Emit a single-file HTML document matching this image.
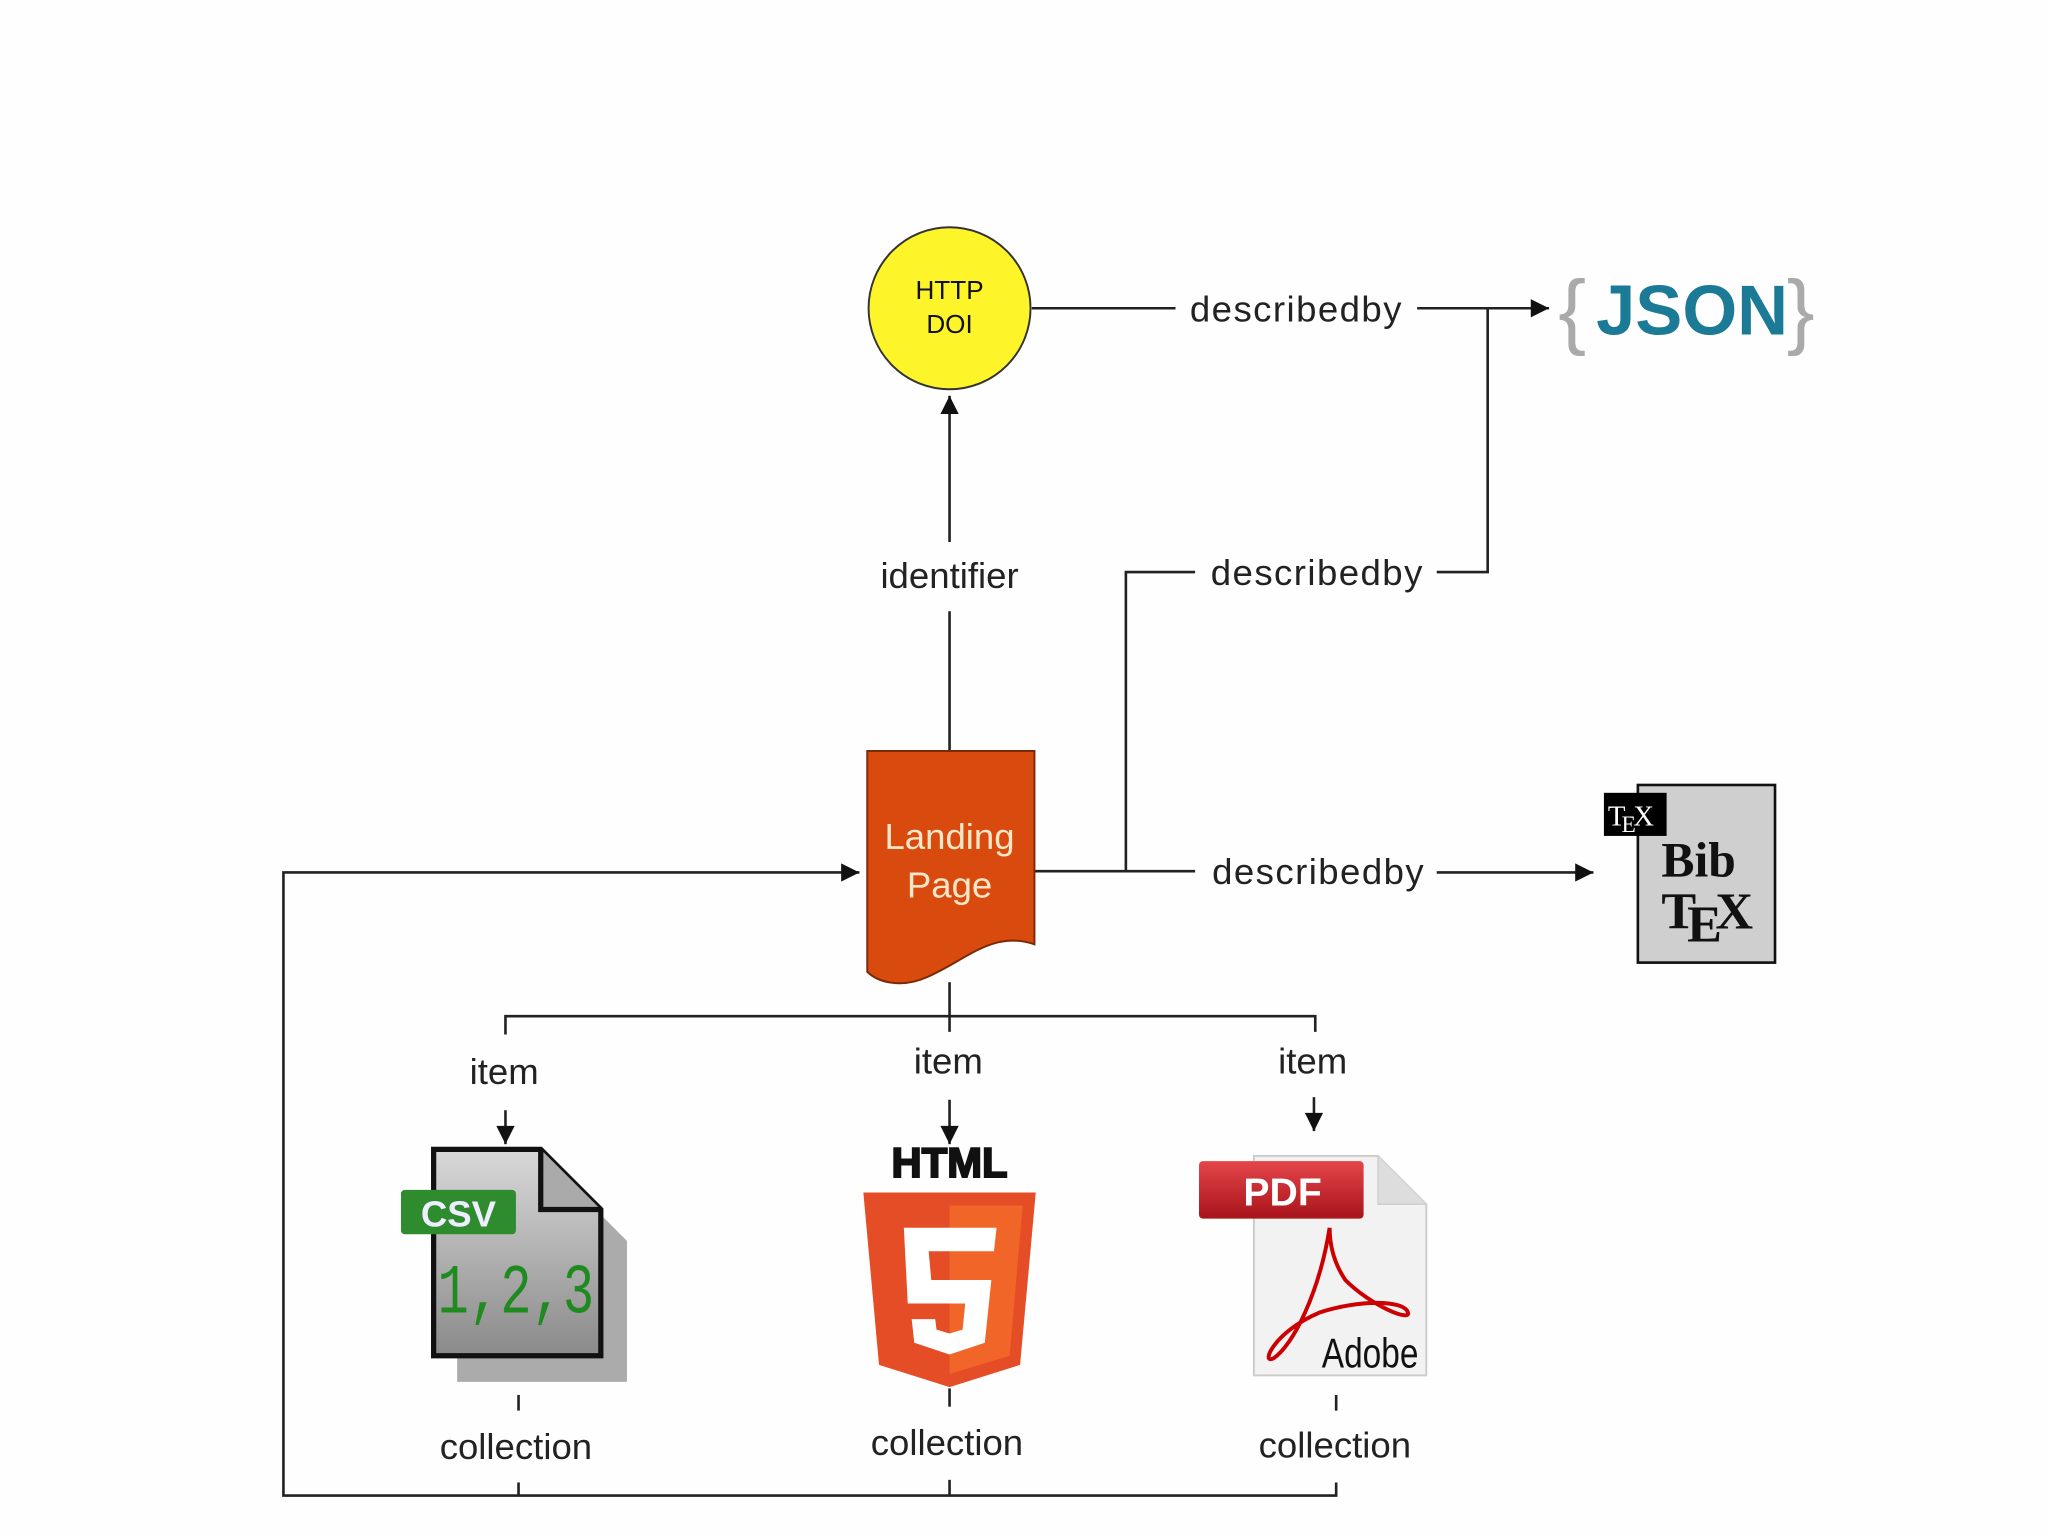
<!DOCTYPE html>
<html><head><meta charset="utf-8"><style>
html,body{margin:0;padding:0;background:#fefefe;}
svg{display:block;}
.s{font-family:"Liberation Sans",sans-serif;}
.r{font-family:"Liberation Serif",serif;}
.m{font-family:"Liberation Mono",monospace;}
</style></head><body>
<svg width="2048" height="1536" viewBox="0 0 1568 1176" xmlns="http://www.w3.org/2000/svg">
<defs>
<marker id="b" viewBox="0 0 10 10" refX="10" refY="5" markerWidth="16" markerHeight="14" orient="auto" markerUnits="userSpaceOnUse"><path d="M0,0 L10,5 L0,10 z" fill="#111"/></marker>
<linearGradient id="g1" x1="0" y1="0" x2="0" y2="1"><stop offset="0" stop-color="#d8d8d8"/><stop offset="1" stop-color="#8a8a8a"/></linearGradient>
<linearGradient id="g2" x1="0" y1="0" x2="0" y2="1"><stop offset="0" stop-color="#e4454a"/><stop offset="1" stop-color="#a8141a"/></linearGradient>
</defs>
<rect width="1568" height="1176" fill="#fefefe"/>
<g stroke="#222" stroke-width="2" fill="none">
<line x1="790" y1="236" x2="900" y2="236"/>
<line x1="1085" y1="236" x2="1186" y2="236" marker-end="url(#b)"/>
<polyline points="1100,438 1139,438 1139,236"/>
<polyline points="915,438 862,438 862,667"/>
<line x1="727" y1="415" x2="727" y2="303" marker-end="url(#b)"/>
<line x1="727" y1="468" x2="727" y2="576"/>
<line x1="792" y1="667" x2="915" y2="667"/>
<line x1="1100" y1="668" x2="1220" y2="668" marker-end="url(#b)"/>
<polyline points="1023,1135 1023,1145 217,1145 217,668 658,668" marker-end="url(#b)"/>
<line x1="397" y1="1135" x2="397" y2="1145"/>
<line x1="727" y1="1133" x2="727" y2="1145"/>
<line x1="727" y1="752" x2="727" y2="778"/>
<polyline points="387,792 387,778 1007,778 1007,790"/>
<line x1="727" y1="778" x2="727" y2="790"/>
<line x1="387" y1="850" x2="387" y2="876" marker-end="url(#b)"/>
<line x1="727" y1="842" x2="727" y2="876" marker-end="url(#b)"/>
<line x1="1006" y1="840" x2="1006" y2="866" marker-end="url(#b)"/>
<line x1="397" y1="1068" x2="397" y2="1080"/>
<line x1="727" y1="1063" x2="727" y2="1077"/>
<line x1="1023" y1="1068" x2="1023" y2="1080"/>
</g>
<circle cx="727" cy="236" r="62" fill="#fdf52a" stroke="#333" stroke-width="1.5"/>
<text class="s" x="727" y="229" font-size="20" text-anchor="middle" fill="#111">HTTP</text>
<text class="s" x="727" y="255" font-size="20" text-anchor="middle" fill="#111">DOI</text>
<g class="s" font-size="28" fill="#222" text-anchor="middle">
<text x="992" y="246" textLength="162">describedby</text>
<text x="1008" y="448" textLength="162">describedby</text>
<text x="1009" y="677" textLength="162">describedby</text>
<text x="727" y="450">identifier</text>
<text x="386" y="830">item</text>
<text x="726" y="822">item</text>
<text x="1005" y="822">item</text>
<text x="395" y="1117">collection</text>
<text x="725" y="1114">collection</text>
<text x="1022" y="1116">collection</text>
</g>
<text class="s" x="1193" y="259" font-size="64" fill="#aaa">{</text>
<text class="s" x="1222" y="256" font-size="54" font-weight="bold" fill="#1b7a96">JSON</text>
<text class="s" x="1368" y="259" font-size="64" fill="#aaa">}</text>
<path d="M664,575 L792,575 L792,723 C760,712 740,735 710,748 C690,757 672,752 664,744 Z" fill="#d84a0e" stroke="#7a2a08" stroke-width="1.5"/>
<text class="s" x="727" y="650" font-size="28" text-anchor="middle" fill="#fde7c8">Landing</text>
<text class="s" x="727" y="687" font-size="28" text-anchor="middle" fill="#fde7c8">Page</text>
<rect x="1254" y="601" width="105" height="136" fill="#cfcfcf" stroke="#111" stroke-width="2"/>
<rect x="1228" y="607" width="48" height="33" fill="#000"/>
<text class="r" x="1231" y="632" font-size="22" fill="#fff">T<tspan dy="5" dx="-3" font-size="18">E</tspan><tspan dy="-5" dx="-2">X</tspan></text>
<text class="r" x="1272" y="671" font-size="38" font-weight="bold" fill="#111">Bib</text>
<text class="r" x="1272" y="711" font-size="40" font-weight="bold" fill="#111">T<tspan dy="10" dx="-7">E</tspan><tspan dy="-10" dx="-5">X</tspan></text>
<path d="M350,900 L430,900 L480,950 L480,1058 L350,1058 Z" fill="#666" opacity="0.55"/>
<path d="M332,880 L414,880 L460,926 L460,1038 L332,1038 Z" fill="url(#g1)" stroke="#111" stroke-width="4"/>
<path d="M414,880 L414,926 L460,926" fill="#aaa" stroke="#111" stroke-width="4"/>
<rect x="307" y="911" width="88" height="34" rx="3" fill="#2e8b2e"/>
<text class="s" x="351" y="939" font-size="28" font-weight="bold" text-anchor="middle" fill="#eef">CSV</text>
<text class="m" x="395" y="1005" font-size="54" text-anchor="middle" fill="#1f8a1f" textLength="120" lengthAdjust="spacingAndGlyphs">1,2,3</text>
<text class="s" x="727" y="901" font-size="32" font-weight="900" text-anchor="middle" fill="#111" stroke="#111" stroke-width="1.5">HTML</text>
<path d="M661,913 L793,913 L781,1045 L727,1062 L673,1045 Z" fill="#e44d26"/>
<path d="M727,923 L783,923 L773,1038 L727,1052 Z" fill="#f16529"/>
<path d="M692,940 L763,940 L761,958 L711,958 L713,980 L759,980 L754,1028 L727,1037 L700,1028 L698,1010 L716,1010 L717,1018 L727,1021 L737,1018 L739,998 L695,998 Z" fill="#fff"/>
<path d="M960,885 L1055,885 L1092,922 L1092,1053 L960,1053 Z" fill="#f2f2f2" stroke="#ccc" stroke-width="1.5"/>
<path d="M1055,885 L1055,922 L1092,922" fill="#ddd" stroke="#ccc"/>
<rect x="918" y="889" width="126" height="44" rx="3" fill="url(#g2)"/>
<text class="s" x="982" y="923" font-size="30" font-weight="bold" text-anchor="middle" fill="#fff">PDF</text>
<path d="M1018,940 C1010,990 990,1030 975,1040 C965,1045 975,1020 1010,1005 C1040,995 1075,995 1078,1005 C1080,1012 1050,1000 1030,980 C1020,965 1018,950 1018,940" fill="none" stroke="#c00" stroke-width="3"/>
<text class="s" x="1049" y="1047" font-size="32" text-anchor="middle" fill="#111" textLength="74" lengthAdjust="spacingAndGlyphs">Adobe</text>
</svg>
</body></html>
